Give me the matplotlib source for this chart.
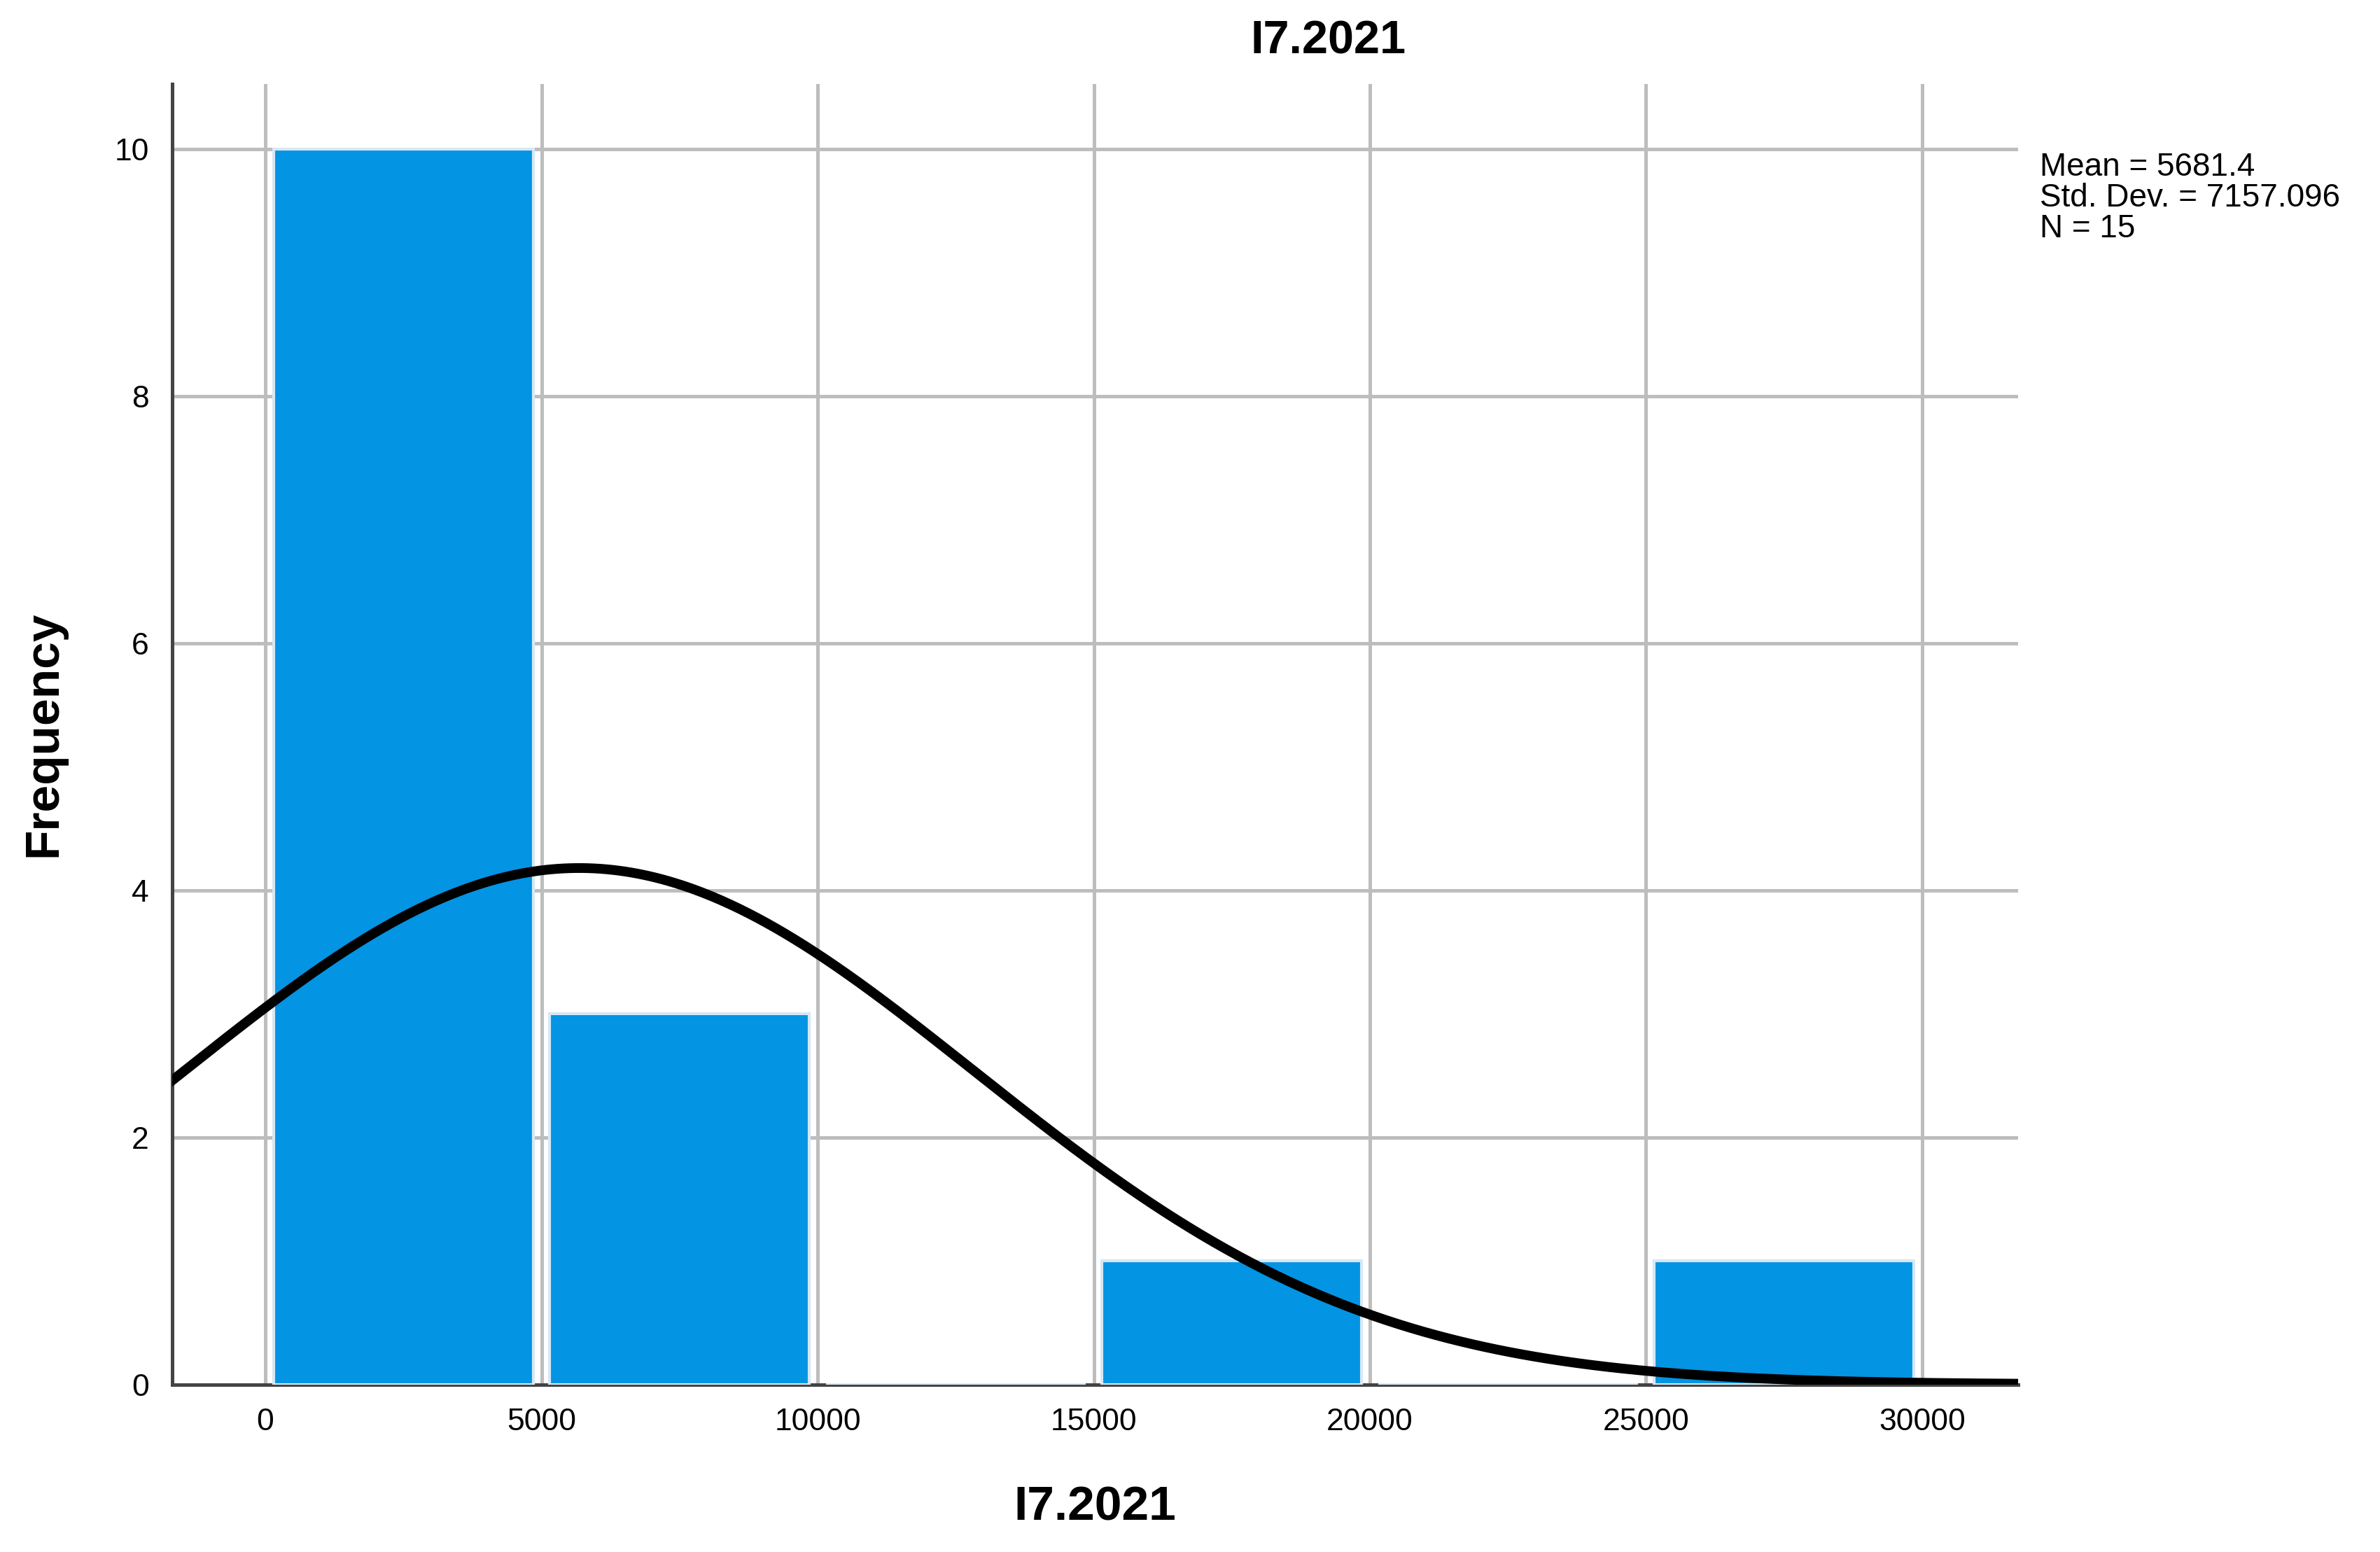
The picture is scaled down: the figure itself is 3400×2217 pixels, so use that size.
import numpy as np
import matplotlib
matplotlib.use("Agg")
import matplotlib.pyplot as plt

bin_edges = [0, 5000, 10000, 15000, 20000, 25000, 30000]
counts = [10, 3, 0, 1, 0, 1]
mean, std, n = 5681.4, 7157.096, 15
title = "I7.2021"

plt.rcParams['font.family'] = ['Arial', 'Liberation Sans', 'DejaVu Sans']
fig = plt.figure(figsize=(17, 11.085), dpi=200)
ax = fig.add_axes([0.0724, 0.108, 0.7756, 0.838])

lefts = np.array(bin_edges[:-1]); widths = np.diff(bin_edges)
ax.bar(lefts + 150, counts, width=widths - 300, align='edge', color='#0394e3',
       edgecolor='#d6e8f5', linewidth=1.5, zorder=3)

xmin, xmax = -1685, 31740
xs = np.linspace(xmin, xmax, 600)
bw = widths[0]
ys = n * bw * np.exp(-0.5 * ((xs - mean) / std) ** 2) / (std * np.sqrt(2 * np.pi))
ax.plot(xs, ys, color='black', linewidth=5, zorder=4)

ax.set_xlim(xmin, xmax)
ax.set_ylim(0, 10.53)
ax.set_xticks(range(0, 30001, 5000))
ax.set_yticks(range(0, 11, 2))
ax.grid(True, color='#bdbdbd', linewidth=1.8, zorder=0)
ax.set_axisbelow(True)
for s in ['top', 'right']:
    ax.spines[s].set_visible(False)
for s in ['left', 'bottom']:
    ax.spines[s].set_color('#444444')
    ax.spines[s].set_linewidth(1.8)
ax.tick_params(length=0, labelsize=16, pad=12)
ax.set_xlabel(title, fontsize=25, fontweight='bold', labelpad=25)
ax.set_ylabel("Frequency", fontsize=25, fontweight='bold', labelpad=25)
fig.text(0.558, 0.973, title, fontsize=24, fontweight='bold', ha='center', va='center')
fig.text(0.857, 0.902, f"Mean = {mean}\nStd. Dev. = {std}\nN = {n}",
         fontsize=16.5, va='top', ha='left', linespacing=1.0)
fig.savefig("out.png", dpi=200, facecolor='white')
